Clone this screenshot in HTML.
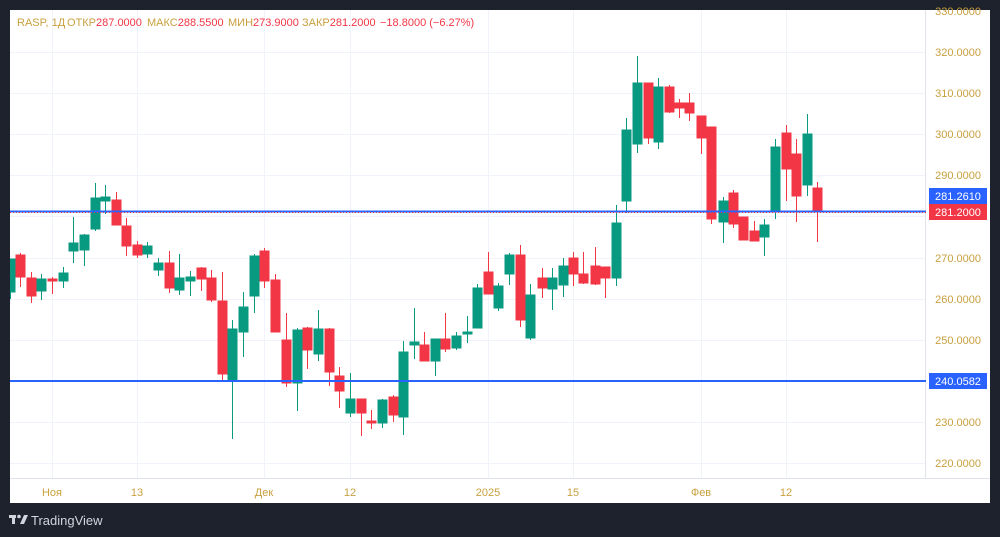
<!DOCTYPE html>
<html><head><meta charset="utf-8"><style>
html,body{margin:0;padding:0;background:#1e222d;width:1000px;height:537px;overflow:hidden}
svg{display:block;font-family:"Liberation Sans",sans-serif}
</style></head><body>
<svg width="1000" height="537" viewBox="0 0 1000 537" xmlns="http://www.w3.org/2000/svg">
<rect x="0" y="0" width="1000" height="537" fill="#1e222d"/>
<rect x="10" y="10" width="980" height="493" fill="#ffffff"/>
<g stroke="#f0f3fa" stroke-width="1">
<line x1="10" y1="52.5" x2="925" y2="52.5"/><line x1="10" y1="93.5" x2="925" y2="93.5"/><line x1="10" y1="134.5" x2="925" y2="134.5"/><line x1="10" y1="175.5" x2="925" y2="175.5"/><line x1="10" y1="216.5" x2="925" y2="216.5"/><line x1="10" y1="258.5" x2="925" y2="258.5"/><line x1="10" y1="299.5" x2="925" y2="299.5"/><line x1="10" y1="340.5" x2="925" y2="340.5"/><line x1="10" y1="381.5" x2="925" y2="381.5"/><line x1="10" y1="422.5" x2="925" y2="422.5"/><line x1="10" y1="463.5" x2="925" y2="463.5"/>
<line x1="52.5" y1="10" x2="52.5" y2="478"/><line x1="137.5" y1="10" x2="137.5" y2="478"/><line x1="264.5" y1="10" x2="264.5" y2="478"/><line x1="350.5" y1="10" x2="350.5" y2="478"/><line x1="488.5" y1="10" x2="488.5" y2="478"/><line x1="573.5" y1="10" x2="573.5" y2="478"/><line x1="701.5" y1="10" x2="701.5" y2="478"/><line x1="786.5" y1="10" x2="786.5" y2="478"/>
</g>
<line x1="10" y1="478.5" x2="990" y2="478.5" stroke="#e0e3eb"/>
<line x1="925.5" y1="10" x2="925.5" y2="478" stroke="#e0e3eb"/>
<svg x="10" y="10" width="915" height="468" viewBox="10 10 915 468" overflow="hidden">
<g stroke="#089981" fill="#089981">
<line x1="10.5" y1="259" x2="10.5" y2="299"/><rect x="6" y="259" width="9" height="33"/>
<line x1="41.5" y1="274" x2="41.5" y2="300"/><rect x="37" y="279" width="9" height="12"/>
<line x1="63.5" y1="267" x2="63.5" y2="288"/><rect x="59" y="273" width="9" height="8"/>
<line x1="73.5" y1="217" x2="73.5" y2="263"/><rect x="69" y="243" width="9" height="8"/>
<line x1="84.5" y1="234" x2="84.5" y2="266"/><rect x="80" y="235" width="9" height="15"/>
<line x1="95.5" y1="183" x2="95.5" y2="231"/><rect x="91" y="198" width="9" height="31"/>
<line x1="105.5" y1="185" x2="105.5" y2="214"/><rect x="101" y="197" width="9" height="4"/>
<line x1="147.5" y1="242" x2="147.5" y2="258"/><rect x="143" y="246" width="9" height="8"/>
<line x1="158.5" y1="258" x2="158.5" y2="276"/><rect x="154" y="263" width="9" height="7"/>
<line x1="179.5" y1="254" x2="179.5" y2="295"/><rect x="175" y="278" width="9" height="12"/>
<line x1="190.5" y1="271" x2="190.5" y2="296"/><rect x="186" y="277" width="9" height="4"/>
<line x1="232.5" y1="320" x2="232.5" y2="439"/><rect x="228" y="329" width="9" height="52"/>
<line x1="243.5" y1="292" x2="243.5" y2="357"/><rect x="239" y="307" width="9" height="25"/>
<line x1="254.5" y1="254" x2="254.5" y2="313"/><rect x="250" y="256" width="9" height="40"/>
<line x1="297.5" y1="328" x2="297.5" y2="411"/><rect x="293" y="330" width="9" height="53"/>
<line x1="318.5" y1="310" x2="318.5" y2="361"/><rect x="314" y="329" width="9" height="25"/>
<line x1="350.5" y1="373" x2="350.5" y2="417"/><rect x="346" y="399" width="9" height="14"/>
<line x1="382.5" y1="399" x2="382.5" y2="428"/><rect x="378" y="400" width="9" height="23"/>
<line x1="403.5" y1="341" x2="403.5" y2="435"/><rect x="399" y="352" width="9" height="65"/>
<line x1="414.5" y1="308" x2="414.5" y2="359"/><rect x="410" y="342" width="9" height="3"/>
<line x1="435.5" y1="339" x2="435.5" y2="376"/><rect x="431" y="339" width="9" height="22"/>
<line x1="456.5" y1="332" x2="456.5" y2="350"/><rect x="452" y="336" width="9" height="12"/>
<line x1="467.5" y1="316" x2="467.5" y2="343"/><rect x="463" y="332" width="9" height="2"/>
<line x1="477.5" y1="284" x2="477.5" y2="328"/><rect x="473" y="288" width="9" height="40"/>
<line x1="498.5" y1="283" x2="498.5" y2="311"/><rect x="494" y="286" width="9" height="22"/>
<line x1="509.5" y1="253" x2="509.5" y2="285"/><rect x="505" y="255" width="9" height="19"/>
<line x1="530.5" y1="284" x2="530.5" y2="340"/><rect x="526" y="295" width="9" height="43"/>
<line x1="552.5" y1="268" x2="552.5" y2="310"/><rect x="548" y="278" width="9" height="11"/>
<line x1="563.5" y1="258" x2="563.5" y2="297"/><rect x="559" y="266" width="9" height="19"/>
<line x1="616.5" y1="205" x2="616.5" y2="286"/><rect x="612" y="223" width="9" height="55"/>
<line x1="626.5" y1="118" x2="626.5" y2="213"/><rect x="622" y="130" width="9" height="71"/>
<line x1="637.5" y1="56" x2="637.5" y2="153"/><rect x="633" y="83" width="9" height="61"/>
<line x1="658.5" y1="78" x2="658.5" y2="149"/><rect x="654" y="87" width="9" height="55"/>
<line x1="723.5" y1="197" x2="723.5" y2="243"/><rect x="719" y="201" width="9" height="21"/>
<line x1="764.5" y1="219" x2="764.5" y2="256"/><rect x="760" y="225" width="9" height="12"/>
<line x1="775.5" y1="139" x2="775.5" y2="219"/><rect x="771" y="147" width="9" height="64"/>
<line x1="807.5" y1="114" x2="807.5" y2="196"/><rect x="803" y="134" width="9" height="51"/>
</g>
<g stroke="#f23645" fill="#f23645">
<line x1="20.5" y1="253" x2="20.5" y2="287"/><rect x="16" y="255" width="9" height="22"/>
<line x1="31.5" y1="272" x2="31.5" y2="303"/><rect x="27" y="278" width="9" height="18"/>
<line x1="52.5" y1="277" x2="52.5" y2="294"/><rect x="48" y="279" width="9" height="2"/>
<line x1="116.5" y1="192" x2="116.5" y2="225"/><rect x="112" y="200" width="9" height="25"/>
<line x1="126.5" y1="218" x2="126.5" y2="256"/><rect x="122" y="226" width="9" height="20"/>
<line x1="137.5" y1="241" x2="137.5" y2="258"/><rect x="133" y="245" width="9" height="10"/>
<line x1="169.5" y1="251" x2="169.5" y2="293"/><rect x="165" y="263" width="9" height="25"/>
<line x1="201.5" y1="267" x2="201.5" y2="291"/><rect x="197" y="268" width="9" height="11"/>
<line x1="211.5" y1="270" x2="211.5" y2="302"/><rect x="207" y="278" width="9" height="22"/>
<line x1="222.5" y1="272" x2="222.5" y2="381"/><rect x="218" y="301" width="9" height="73"/>
<line x1="264.5" y1="248" x2="264.5" y2="288"/><rect x="260" y="251" width="9" height="30"/>
<line x1="275.5" y1="274" x2="275.5" y2="332"/><rect x="271" y="280" width="9" height="52"/>
<line x1="286.5" y1="313" x2="286.5" y2="387"/><rect x="282" y="340" width="9" height="43"/>
<line x1="307.5" y1="327" x2="307.5" y2="369"/><rect x="303" y="328" width="9" height="22"/>
<line x1="329.5" y1="328" x2="329.5" y2="386"/><rect x="325" y="329" width="9" height="43"/>
<line x1="339.5" y1="367" x2="339.5" y2="408"/><rect x="335" y="376" width="9" height="15"/>
<line x1="361.5" y1="399" x2="361.5" y2="436"/><rect x="357" y="399" width="9" height="14"/>
<line x1="371.5" y1="410" x2="371.5" y2="429"/><rect x="367" y="421" width="9" height="2"/>
<line x1="393.5" y1="395" x2="393.5" y2="422"/><rect x="389" y="397" width="9" height="18"/>
<line x1="424.5" y1="332" x2="424.5" y2="361"/><rect x="420" y="345" width="9" height="16"/>
<line x1="445.5" y1="313" x2="445.5" y2="352"/><rect x="441" y="339" width="9" height="10"/>
<line x1="488.5" y1="252" x2="488.5" y2="294"/><rect x="484" y="272" width="9" height="22"/>
<line x1="520.5" y1="245" x2="520.5" y2="327"/><rect x="516" y="255" width="9" height="65"/>
<line x1="542.5" y1="268" x2="542.5" y2="298"/><rect x="538" y="278" width="9" height="10"/>
<line x1="573.5" y1="252" x2="573.5" y2="286"/><rect x="569" y="258" width="9" height="16"/>
<line x1="583.5" y1="252" x2="583.5" y2="284"/><rect x="579" y="274" width="9" height="9"/>
<line x1="595.5" y1="247" x2="595.5" y2="285"/><rect x="591" y="266" width="9" height="18"/>
<line x1="605.5" y1="267" x2="605.5" y2="298"/><rect x="601" y="267" width="9" height="11"/>
<line x1="648.5" y1="83" x2="648.5" y2="144"/><rect x="644" y="83" width="9" height="55"/>
<line x1="669.5" y1="85" x2="669.5" y2="113"/><rect x="665" y="87" width="9" height="25"/>
<line x1="679.5" y1="99" x2="679.5" y2="118"/><rect x="675" y="103" width="9" height="5"/>
<line x1="689.5" y1="93" x2="689.5" y2="121"/><rect x="685" y="103" width="9" height="10"/>
<line x1="701.5" y1="116" x2="701.5" y2="154"/><rect x="697" y="116" width="9" height="22"/>
<line x1="711.5" y1="127" x2="711.5" y2="224"/><rect x="707" y="127" width="9" height="92"/>
<line x1="733.5" y1="190" x2="733.5" y2="228"/><rect x="729" y="193" width="9" height="31"/>
<line x1="743.5" y1="217" x2="743.5" y2="240"/><rect x="739" y="217" width="9" height="23"/>
<line x1="754.5" y1="221" x2="754.5" y2="241"/><rect x="750" y="231" width="9" height="10"/>
<line x1="786.5" y1="125" x2="786.5" y2="201"/><rect x="782" y="133" width="9" height="36"/>
<line x1="796.5" y1="139" x2="796.5" y2="222"/><rect x="792" y="154" width="9" height="42"/>
<line x1="817.5" y1="182" x2="817.5" y2="242"/><rect x="813" y="188" width="9" height="24"/>
</g>
</svg>
<line x1="10" y1="211.5" x2="926" y2="211.5" stroke="#2962ff" stroke-width="2"/>
<line x1="10" y1="212.5" x2="926" y2="212.5" stroke="#f23645" stroke-width="1" stroke-dasharray="1,2"/>
<line x1="10" y1="381" x2="926" y2="381" stroke="#2962ff" stroke-width="2"/>
<g font-size="11" fill="#c9a03f" text-anchor="end">
<text x="981" y="15">330.0000</text><text x="981" y="56">320.0000</text><text x="981" y="97">310.0000</text><text x="981" y="138">300.0000</text><text x="981" y="179">290.0000</text><text x="981" y="262">270.0000</text><text x="981" y="303">260.0000</text><text x="981" y="344">250.0000</text><text x="981" y="426">230.0000</text><text x="981" y="467">220.0000</text>
</g>
<rect x="929" y="188" width="58" height="16" fill="#2962ff"/>
<rect x="929" y="204" width="58" height="16" fill="#f23645"/>
<rect x="929" y="373" width="58" height="16" fill="#2962ff"/>
<g font-size="11" fill="#ffffff" text-anchor="middle">
<text x="958" y="200">281.2610</text><text x="958" y="216">281.2000</text><text x="958" y="385">240.0582</text>
</g>
<g font-size="11" fill="#c9a03f" text-anchor="middle">
<text x="52" y="496">Ноя</text><text x="137" y="496">13</text><text x="264" y="496">Дек</text><text x="350" y="496">12</text><text x="488" y="496">2025</text><text x="573" y="496">15</text><text x="701" y="496">Фев</text><text x="786" y="496">12</text>
</g>
<g font-size="11">
<text x="17" y="26" fill="#c9a03f">RASP, 1Д</text>
<text x="67" y="26"><tspan fill="#c9a03f">ОТКР</tspan><tspan fill="#f23645">287.0000</tspan></text>
<text x="147" y="26"><tspan fill="#c9a03f">МАКС</tspan><tspan fill="#f23645">288.5500</tspan></text>
<text x="228" y="26"><tspan fill="#c9a03f">МИН</tspan><tspan fill="#f23645">273.9000</tspan></text>
<text x="302" y="26"><tspan fill="#c9a03f">ЗАКР</tspan><tspan fill="#f23645">281.2000</tspan></text>
<text x="380" y="26" fill="#f23645">−18.8000 (−6.27%)</text>
</g>
<g fill="#d1d4dc">
<rect x="9" y="515" width="7" height="3"/><rect x="12" y="515" width="3" height="9"/>
<circle cx="19" cy="516.5" r="1.8"/><polygon points="20,524 24,515 28,515 24,524"/>
<text x="31" y="525" font-size="13">TradingView</text>
</g>
</svg>
</body></html>
